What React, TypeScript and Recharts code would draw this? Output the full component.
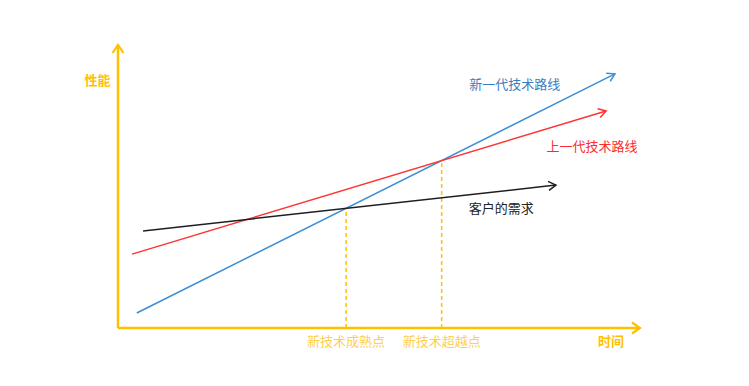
import React from 'react';
import { LineChart, Line, XAxis, YAxis, ReferenceLine, ReferenceDot } from 'recharts';

const FONT = '"Noto Sans CJK SC", "Microsoft YaHei", "Noto Sans", sans-serif';

// time (x) and performance (y) in arbitrary units, 0..10 each
const newTechLine = [
  { t: 0.36, p: 0.53 },
  { t: 9.52, p: 8.98 },
];
const oldTechLine = [
  { t: 0.27, p: 2.61 },
  { t: 9.35, p: 7.67 },
];
const demandLine = [
  { t: 0.48, p: 3.43 },
  { t: 8.39, p: 5.05 },
];

const keyTimes = [4.37, 6.2];
const keyPerf = [4.23, 5.91];
const keyLabels = ['新技术成熟点', '新技术超越点'];

const seriesNames = ['新一代技术路线', '上一代技术路线', '客户的需求'];
const seriesLabelT = [7.6, 9.08, 7.34];
const seriesLabelP = [8.6, 6.43, 4.22];
const seriesColors = ['#3D8FD6', '#FF3333', '#1E1E1E'];
const seriesTextColors = ['#3A7CC0', '#FF2A2A', '#222222'];

const AXIS = '#FFC000';

const YLabel = (props: any) => {
  const { viewBox } = props;
  return (
    <text x={viewBox.x + viewBox.width - 20.5} y={viewBox.y + 34} textAnchor="middle" dominantBaseline="central"
      fill={AXIS} fontSize={13} fontWeight="bold" fontFamily={FONT}>性能</text>
  );
};
const XLabel = (props: any) => {
  const { viewBox } = props;
  return (
    <text x={viewBox.x + viewBox.width - 29} y={viewBox.y + 12} textAnchor="middle" dominantBaseline="central"
      fill={AXIS} fontSize={13} fontWeight="bold" fontFamily={FONT}>时间</text>
  );
};

const lines = [newTechLine, oldTechLine, demandLine];

export default function App() {
  return (
    <div style={{ position: 'absolute', left: 0, top: 0, width: 749, height: 386, background: '#fff' }}>
      <LineChart width={749} height={386} margin={{ top: 45, right: 109, bottom: 0, left: 0 }}>
        <defs>
          <marker id="arrAxis" markerUnits="userSpaceOnUse" markerWidth={16} markerHeight={16} refX={12} refY={8} orient="auto-start-reverse">
            <path d="M4,2.5 L12,8 L4,13.5" fill="none" stroke={AXIS} strokeWidth={2.2} />
          </marker>
          {seriesColors.map((c, i) => (
            <marker key={i} id={`arr${i}`} markerUnits="userSpaceOnUse" markerWidth={14} markerHeight={14} refX={11} refY={7} orient="auto">
              <path d="M3.5,2.5 L11,7 L3.5,11.5" fill="none" stroke={c} strokeWidth={1.5} />
            </marker>
          ))}
        </defs>
        <XAxis
          type="number"
          dataKey="t"
          domain={[0, 10]}
          allowDataOverflow
          ticks={keyTimes}
          interval={0}
          tickFormatter={(v: number) => keyLabels[keyTimes.indexOf(v)]}
          tick={{ fill: '#FFCF4D', fontSize: 13, fontFamily: FONT }}
          tickLine={false}
          tickSize={4}
          tickMargin={5}
          height={58}
          axisLine={{ stroke: AXIS, strokeWidth: 2.5, markerEnd: 'url(#arrAxis)' } as any}
          label={<XLabel />}
        />
        <YAxis
          type="number"
          domain={[0, 10]}
          allowDataOverflow
          width={118}
          tick={false}
          tickLine={false}
          axisLine={{ stroke: AXIS, strokeWidth: 2.5, markerStart: 'url(#arrAxis)' } as any}
          label={<YLabel />}
        />
        {keyTimes.map((t, i) => (
          <ReferenceLine
            key={`kl${i}`}
            segment={[{ x: t, y: 0 }, { x: t, y: keyPerf[i] }]}
            stroke={AXIS}
            strokeWidth={1.5}
            strokeDasharray="4 3"
          />
        ))}
        {lines.map((d, i) => (
          <Line
            key={`ln${i}`}
            data={d}
            dataKey="p"
            type="linear"
            stroke={seriesColors[i]}
            strokeWidth={1.5}
            dot={false}
            activeDot={false}
            isAnimationActive={false}
            markerEnd={`url(#arr${i})`}
          />
        ))}
        {seriesNames.map((n, i) => (
          <ReferenceDot
            key={`sl${i}`}
            x={seriesLabelT[i]}
            y={seriesLabelP[i]}
            r={0}
            fill="none"
            stroke="none"
            label={{ value: n, position: 'center', fill: seriesTextColors[i], fontSize: 13, fontFamily: FONT }}
          />
        ))}
      </LineChart>
    </div>
  );
}
